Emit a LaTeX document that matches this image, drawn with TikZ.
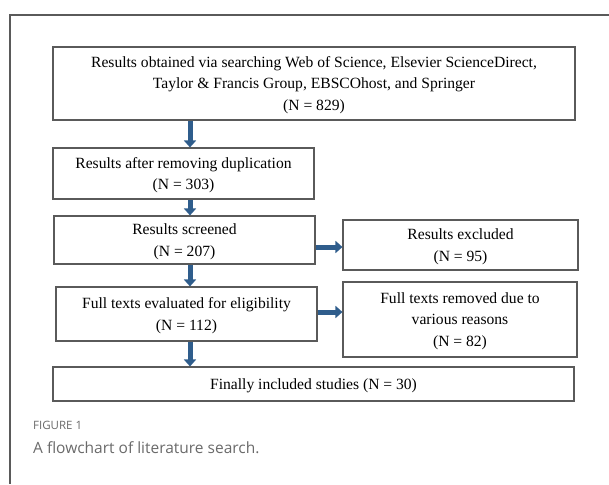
\documentclass[tikz,border=0pt]{standalone}
\usepackage{fontspec}
\setmainfont{Liberation Serif}
\newfontfamily\capfont{Open Sans}
\usetikzlibrary{arrows.meta}
\definecolor{boxgray}{HTML}{5A5A5A}
\definecolor{flowblue}{HTML}{2F5D8C}
\definecolor{capgray}{HTML}{6A6A6A}

\begin{document}
\begin{tikzpicture}[x=1pt,y=-1pt,
  stage/.style={draw=boxgray,line width=1.1pt,align=center,inner sep=0pt,
    text depth=-1pt,font=\fontsize{15.6}{21.5}\selectfont},
  flow/.style={flowblue,line width=5pt,-{Triangle[width=12pt,length=7pt]}}]
\useasboundingbox (0,0) rectangle (609,484);
% panel frame
\draw[boxgray,line width=1.2pt] (609,15) -- (10,15) -- (10,484);
% main column
\node[stage,minimum width=522,minimum height=73] (search) at (314,83.5)
  {Results obtained via searching Web of Science, Elsevier ScienceDirect,\\
   Taylor \& Francis Group, EBSCOhost, and Springer\\(N = 829)};
\node[stage,minimum width=261,minimum height=51] (dedup) at (183.5,173.5)
  {Results after removing duplication\\(N = 303)};
\node[stage,minimum width=261,minimum height=48] (screen) at (184.5,240)
  {Results screened\\(N = 207)};
\node[stage,minimum width=261,minimum height=54] (full) at (186.5,314)
  {Full texts evaluated for eligibility\\(N = 112)};
\node[stage,minimum width=521,minimum height=34] (final) at (313.5,384)
  {Finally included studies (N = 30)};
% side column
\node[stage,minimum width=235,minimum height=50] (excl) at (460.5,245)
  {Results excluded\\(N = 95)};
\node[stage,minimum width=234,minimum height=75] (removed) at (460,319.5)
  {Full texts removed due to\\various reasons\\(N = 82)};
% arrows
\coordinate (ax) at (190,0);
\foreach \A/\B in {search/dedup,dedup/screen,screen/full,full/final}
  \draw[flow] (\A.south -| ax) -- (\B.north -| ax);
\draw[flow] (screen.east |- 0,247) -- (excl.west |- 0,247);
\draw[flow] (full.east |- 0,312) -- (removed.west |- 0,312);
% caption
\node[anchor=west,inner sep=0pt,text=capgray,font=\capfont\fontsize{11.5}{13}\selectfont]
  (figno) at (33,425) {FIGURE 1};
\node[anchor=west,inner sep=0pt,text=capgray,font=\capfont\fontsize{15.5}{18}\selectfont]
  (cap) at (33,448) {A flowchart of literature search.};
\end{tikzpicture}
\end{document}
